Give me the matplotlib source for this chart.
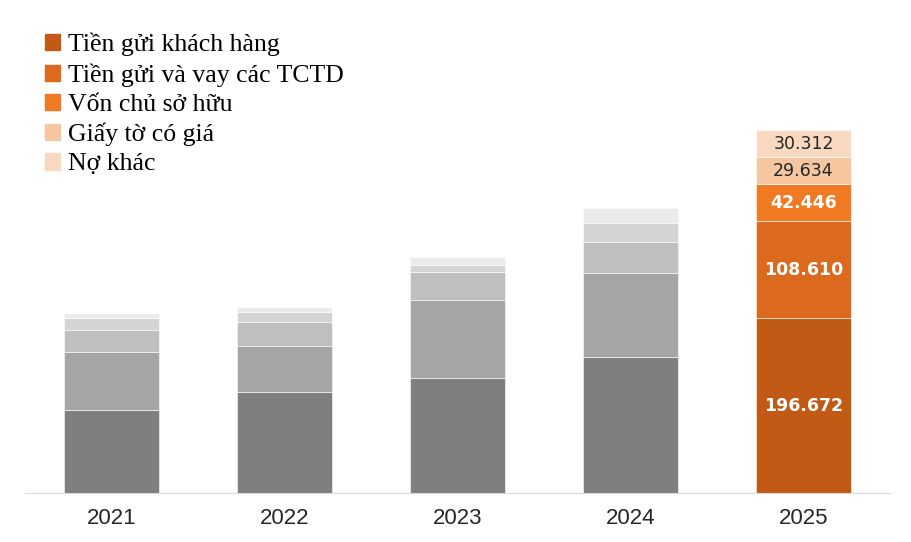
import matplotlib.pyplot as plt
import numpy as np
from matplotlib.patches import Patch

years = ["2021", "2022", "2023", "2024", "2025"]
series_names = ["Tiền gửi khách hàng", "Tiền gửi và vay các TCTD",
                "Vốn chủ sở hữu", "Giấy tờ có giá", "Nợ khác"]

# values (nghìn tỷ đồng), 2021-2024
tien_gui_kh = [93.3, 113.5, 129.0, 152.9, 196.672]
tien_gui_tctd = [65.0, 51.7, 87.7, 94.4, 108.610]
von_csh = [24.7, 27.0, 31.5, 34.8, 42.446]
giay_to = [13.5, 11.2, 8.0, 21.4, 29.634]
no_khac = [5.6, 5.6, 9.0, 16.9, 30.312]

series = [tien_gui_kh, tien_gui_tctd, von_csh, giay_to, no_khac]
grays = ["#7f7f7f", "#a5a5a5", "#bfbfbf", "#d4d4d4", "#ebebeb"]
oranges = ["#c05a14", "#dc6a1e", "#f07a22", "#f5c6a0", "#f8d9c0"]
label_colors = ["white", "white", "white", "#262626", "#262626"]

fig = plt.figure(figsize=(9.12, 5.42), dpi=100)
ax = fig.add_axes([25 / 912, 49 / 542, 865 / 912, 483 / 542])

x = np.arange(len(years))
bottom = np.zeros(len(years))
for i, vals in enumerate(series):
    vals = np.array(vals)
    cols = [grays[i]] * 4 + [oranges[i]]
    ax.bar(x, vals, width=0.55, bottom=bottom, color=cols,
           edgecolor="white", linewidth=0.4)
    # labels only on the 2025 column
    ax.text(x[-1], bottom[-1] + vals[-1] / 2,
            f"{vals[-1]:.3f}", ha="center", va="center",
            fontsize=12.5, color=label_colors[i],
            fontweight="bold" if i < 3 else "normal",
            family="DejaVu Sans")
    bottom += vals

ax.set_xlim(-0.5, 4.5)
ax.set_ylim(0, 543)
ax.set_xticks(x)
ax.set_xticklabels(years, fontsize=16, family="Liberation Sans", color="#262626")
ax.tick_params(axis="x", length=0, pad=11)
ax.set_yticks([])
for s in ["top", "right", "left"]:
    ax.spines[s].set_visible(False)
ax.spines["bottom"].set_color("#d9d9d9")

handles = [Patch(color=c) for c in oranges]
ax.legend(handles, series_names, loc="upper left", bbox_to_anchor=(0.002, 0.99),
          frameon=False, prop={"family": "Liberation Serif", "size": 18.5},
          handlelength=0.6, handleheight=0.6, handletextpad=0.3,
          labelspacing=0.27, borderaxespad=0.3)

fig.savefig("out.png", dpi=100)
